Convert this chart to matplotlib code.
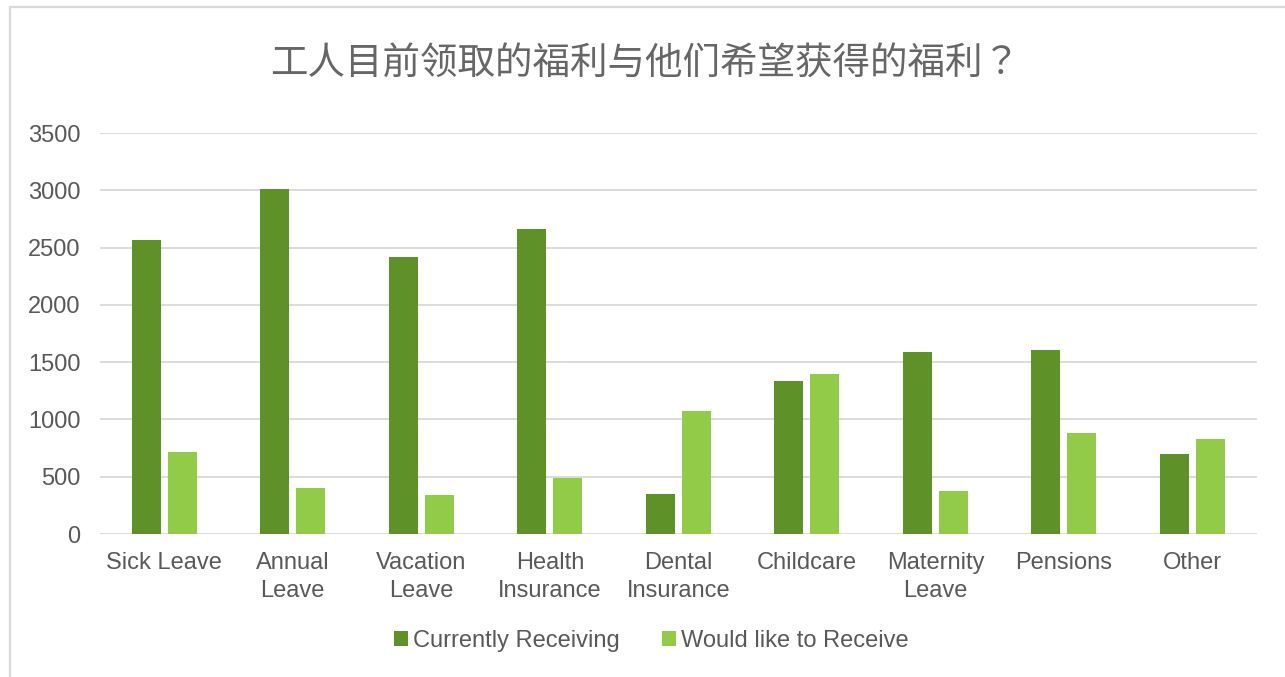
import numpy as np
import matplotlib.pyplot as plt
from matplotlib.patches import Rectangle

plt.rcParams["font.family"] = ["Liberation Sans", "Noto Sans CJK SC", "DejaVu Sans"]

categories = ["Sick Leave", "Annual\nLeave", "Vacation\nLeave", "Health\nInsurance",
              "Dental\nInsurance", "Childcare", "Maternity\nLeave", "Pensions", "Other"]
currently_receiving = [2570, 3010, 2420, 2660, 350, 1335, 1590, 1610, 700]
would_like = [720, 400, 340, 490, 1075, 1400, 375, 880, 830]

DARK = "#5E9128"
LIGHT = "#92CB47"
TEXT = "#595959"
GRID = "#D9D9D9"

fig = plt.figure(figsize=(12.85, 6.77), dpi=100)
ax = fig.add_axes([0.0778, 0.2112, 0.9002, 0.5923])

x = np.arange(len(categories))
w = 0.225
ax.bar(x - 0.14, currently_receiving, w, color=DARK, label="Currently Receiving", zorder=3)
ax.bar(x + 0.14, would_like, w, color=LIGHT, label="Would like to Receive", zorder=3)

ax.set_xlim(-0.5, len(categories) - 0.5)
ax.set_ylim(0, 3500)
ax.set_yticks(range(0, 3501, 500))
ax.yaxis.grid(True, color=GRID, linewidth=1.3, zorder=0)
ax.set_xticks(x)
ax.set_xticklabels(categories, linespacing=1.35)
ax.tick_params(axis="both", length=0, labelsize=17, colors=TEXT)
ax.tick_params(axis="y", pad=14)
ax.tick_params(axis="x", pad=13)
for s in ax.spines.values():
    s.set_visible(False)

# TC face centres the full-width question mark
fig.text(0.502, 0.907, "工人目前领取的福利与他们希望获得的福利？", ha="center", va="center",
         fontsize=27, color="#666666", family=["Noto Sans CJK TC", "DejaVu Sans"])

fig.legend(loc="center", bbox_to_anchor=(0.507, 0.053), ncol=2, frameon=False,
           fontsize=17, labelcolor=TEXT, handlelength=0.6, handleheight=0.6,
           handletextpad=0.2, columnspacing=1.8)

# chart frame
fig.patches.append(Rectangle((9.5 / 1285, -0.01), 1.2, 1 - 6.5 / 677 + 0.01,
                             transform=fig.transFigure, fill=False,
                             edgecolor=GRID, linewidth=1.6))

fig.savefig("out.png", dpi=100)
